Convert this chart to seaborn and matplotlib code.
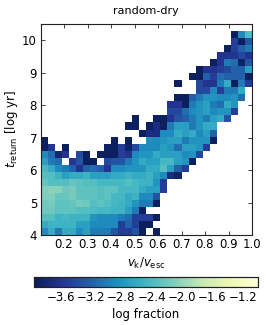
import numpy as np
import matplotlib
matplotlib.use('Agg')
import matplotlib.pyplot as plt
import seaborn as sns

n = np.nan

# log fraction per t_return bin, bottom row first, 30 columns in v_k/v_esc
row_00 = [-2.9,-2.6,-3.0,-2.6,-2.6,-2.9,-2.7,-3.0,-3.0,-3.0,-3.3,-3.5,-3.5,-3.3,-3.9,n,-3.9]+[n]*13
row_01 = [-2.6,-2.5,-2.5,-2.5,-2.5,-2.7,-2.7,-2.9,-2.9,-2.9,-2.9,-3.5,-3.2,-3.5,-3.9,-3.9]+[n]*14
row_02 = [-2.35,-2.35,-2.5,-2.45,-2.5,-2.5,-2.5,-2.8,-2.9,-2.9,-2.9,-3.0,-3.1,-3.5,-3.5,-3.5,-3.9]+[n]*13
row_03 = [-2.2,-2.2,-2.3,-2.3,-2.3,-2.35,-2.35,-2.4,-2.45,-2.45,-2.5,-2.5,-2.7,-3.0,-3.9]+[n]*15
row_04 = [-2.2,-2.15,-2.3,-2.3,-2.25,-2.15,-2.2,-2.35,-2.3,-2.35,-2.45,-2.5,-2.6,-2.8,-3.0,-3.0,-3.9]+[n]*13
row_05 = [-2.1,-2.1,-2.25,-2.25,-2.15,-2.3,-2.3,-2.3,-2.35,-2.3,-2.45,-2.45,-2.6,-2.5,-2.9,-2.9,-3.3]+[n]*13
row_06 = [-2.1,-2.05,-2.05,-2.2,-2.15,-2.3,-2.3,-2.3,-2.35,-2.3,-2.3,-2.45,-2.45,-2.45,-2.6,-2.7,-2.7,-3.5]+[n]*12
row_07 = [-2.25,-2.35,-2.35,-2.35,-2.25,-2.3,-2.35,-2.35,-2.45,-2.45,-2.45,-2.45,-2.35,-2.45,-2.5,-2.5,-2.8,-3.5]+[n]*12
row_08 = [-2.35,-2.35,-2.5,-2.7,-2.6,-2.6,-2.5,-2.7,-2.7,-2.7,-2.6,-2.6,-2.5,-2.6,-2.6,-2.5,-2.7,-2.9,-3.7,-3.85]+[n]*10
row_09 = [-2.45,-2.6,-2.9,-3.0,-3.2,-3.6,-3.2,-3.1,-3.2,-3.6,-2.9,-2.9,-2.8,-2.8,-2.8,-2.6,-2.6,-2.35,-2.7,-3.2,-3.5]+[n]*9
row_10 = [-2.7,-3.0,-3.1,n,-3.6,-3.3,-3.9,-3.9,n,-3.4,-3.3,-3.3,-3.0,-2.8,-2.6,-2.7,-2.7,-2.45,-2.45,-2.7,-2.8,-3.9]+[n]*8
row_11 = [-2.9,-3.1,-3.8,-3.6,n,-3.4,-3.9,n,-3.9,-3.9,-3.9,-3.5,-3.6,-2.9,-2.8,-2.8,-2.6,-2.7,-2.7,-2.7,-2.9,-2.8,-3.4]+[n]*7
row_12 = [-3.9,-3.6,n,-3.9,n,n,n,n,n,-3.9,-3.9,-3.5,-3.85,-3.4,-2.9,-2.9,-2.9,-2.7,-2.8,-3.1,-2.7,-2.7,-2.8,-3.5]+[n]*6
row_13 = [-3.9,n,n,n,n,n,n,n,n,n,-3.9,n,-3.9,n,n,-2.85,-2.9,-2.8,-2.7,-2.7,-3.0,-2.8,-2.8,-2.8,-3.9]+[n]*5
row_14 = [n]*14+[-3.9,-3.7,-3.7,-2.9,-2.9,-2.6,-2.7,-2.6,-2.9,-2.7,-3.2]+[n]*5
row_15 = [n]*12+[-3.9,-3.9,n,-3.9,-3.7,-3.9,-3.0,-2.7,-2.7,-3.0,-2.8,-2.6,-2.6]+[n]*5
row_16 = [n]*13+[-3.9,n,n,-3.9,-3.9,-3.6,-3.3,-3.2,-3.0,-2.8,-3.0,-2.7,-2.6,-3.3]+[n]*3
row_17 = [n]*18+[-3.4,-3.4,-3.1,-2.9,-2.8,-2.7,-2.9,-2.8,-2.8,-3.5]+[n]*2
row_18 = [n]*18+[-3.6,-3.6,-3.9,-3.0,-2.8,-2.7,-3.0,-3.1,-2.6,-2.8]+[n]*2
row_19 = [n]*19+[-3.9,-3.9,-3.2,-3.0,-2.8,-2.8,-2.9,-2.9,-2.8,-3.1,n]
row_20 = [n]*22+[-3.4,-3.4,-2.9,-3.5,-3.0,-3.0,-2.6,n]
row_21 = [n]*19+[-3.9,n,n,-3.4,-3.6,-3.6,-3.0,-2.6,-3.9,-3.0,-3.5]
row_22 = [n]*21+[-3.9,-3.9,-3.2,-3.5,-3.1,-3.2,-3.2,-3.2,-3.9]
row_23 = [n]*22+[-3.9,-3.6,-3.6,-3.5,-3.4,-3.2,-3.2,-2.7]
row_24 = [n]*24+[-3.9,-3.6,-3.0,-3.1,-3.85,-3.3]
row_25 = [n]*25+[-3.6,-3.6,-3.6,-3.4,-3.6]
row_26 = [n]*26+[-3.9,-3.5,-3.2,-3.0]
row_27 = [n]*27+[-3.5,-3.9,-3.3]
row_28 = [n]*27+[-3.9,-2.9,-2.4]
row_29 = [n]*30

rows = [row_00,row_01,row_02,row_03,row_04,row_05,row_06,row_07,row_08,row_09,
        row_10,row_11,row_12,row_13,row_14,row_15,row_16,row_17,row_18,row_19,
        row_20,row_21,row_22,row_23,row_24,row_25,row_26,row_27,row_28,row_29]

x_ticks = [0.2,0.3,0.4,0.5,0.6,0.7,0.8,0.9,1.0]
y_ticks = [4,5,6,7,8,9,10]
cbar_ticks = [-3.6,-3.2,-2.8,-2.4,-2.0,-1.6,-1.2]

sns.set_style('ticks')
plt.rcParams['font.family'] = ['DejaVu Sans']
plt.rcParams['mathtext.default'] = 'it'
plt.rcParams['text.color'] = 'black'
plt.rcParams['axes.labelcolor'] = 'black'
plt.rcParams['xtick.labelcolor'] = 'black'
plt.rcParams['ytick.labelcolor'] = 'black'

W, H = 266, 325
fig = plt.figure(figsize=(W/100, H/100), dpi=100)
ax = fig.add_axes([40.5/W, 1-235/H, 211.5/W, 211/H])
cax = fig.add_axes([34/W, 1-287/H, 224/W, 10/H])

grid = np.array(rows, dtype=float)
sns.heatmap(grid, ax=ax, cbar_ax=cax, cmap='YlGnBu_r', vmin=-3.95, vmax=-1.0,
            square=False, xticklabels=False, yticklabels=False,
            cbar_kws={'orientation': 'horizontal', 'ticks': cbar_ticks})
ax.invert_yaxis()

# heatmap axes count cells, so convert the data ticks to cell units
ax.set_xticks([(v-0.1)/0.03 for v in x_ticks])
ax.set_xticklabels([f'{v:.1f}' for v in x_ticks])
ax.set_yticks([(v-4)/(6.5/30) for v in y_ticks])
ax.set_yticklabels([str(v) for v in y_ticks], rotation=0)
ax.tick_params(direction='in', top=True, right=True, length=3, width=0.6, labelsize=8.5, pad=2.5, color='#222222')
for s in ax.spines.values():
    s.set_visible(True)
    s.set_linewidth(0.8)
    s.set_color('#222222')

ax.set_title('random-dry', fontsize=8, pad=7, color='black')
ax.set_xlabel(r'$v_{\rm k}/v_{\rm esc}$', fontsize=8.5, labelpad=3)
ax.set_ylabel(r'$t_{\rm return}$ [log yr]', fontsize=8.5)
ax.yaxis.set_label_coords(-20.5/211.5, 0.5)

cax.tick_params(direction='in', bottom=True, length=3, width=0.6, labelsize=8.5, pad=3, color='#222222')
cax.set_xticklabels([str(v).replace('-', '\u2212') for v in cbar_ticks])
cax.set_xlabel('log fraction', fontsize=8.5, labelpad=3)
for s in cax.spines.values():
    s.set_visible(True)
    s.set_linewidth(0.8)
    s.set_color('#222222')

fig.savefig('out.png', dpi=100)
